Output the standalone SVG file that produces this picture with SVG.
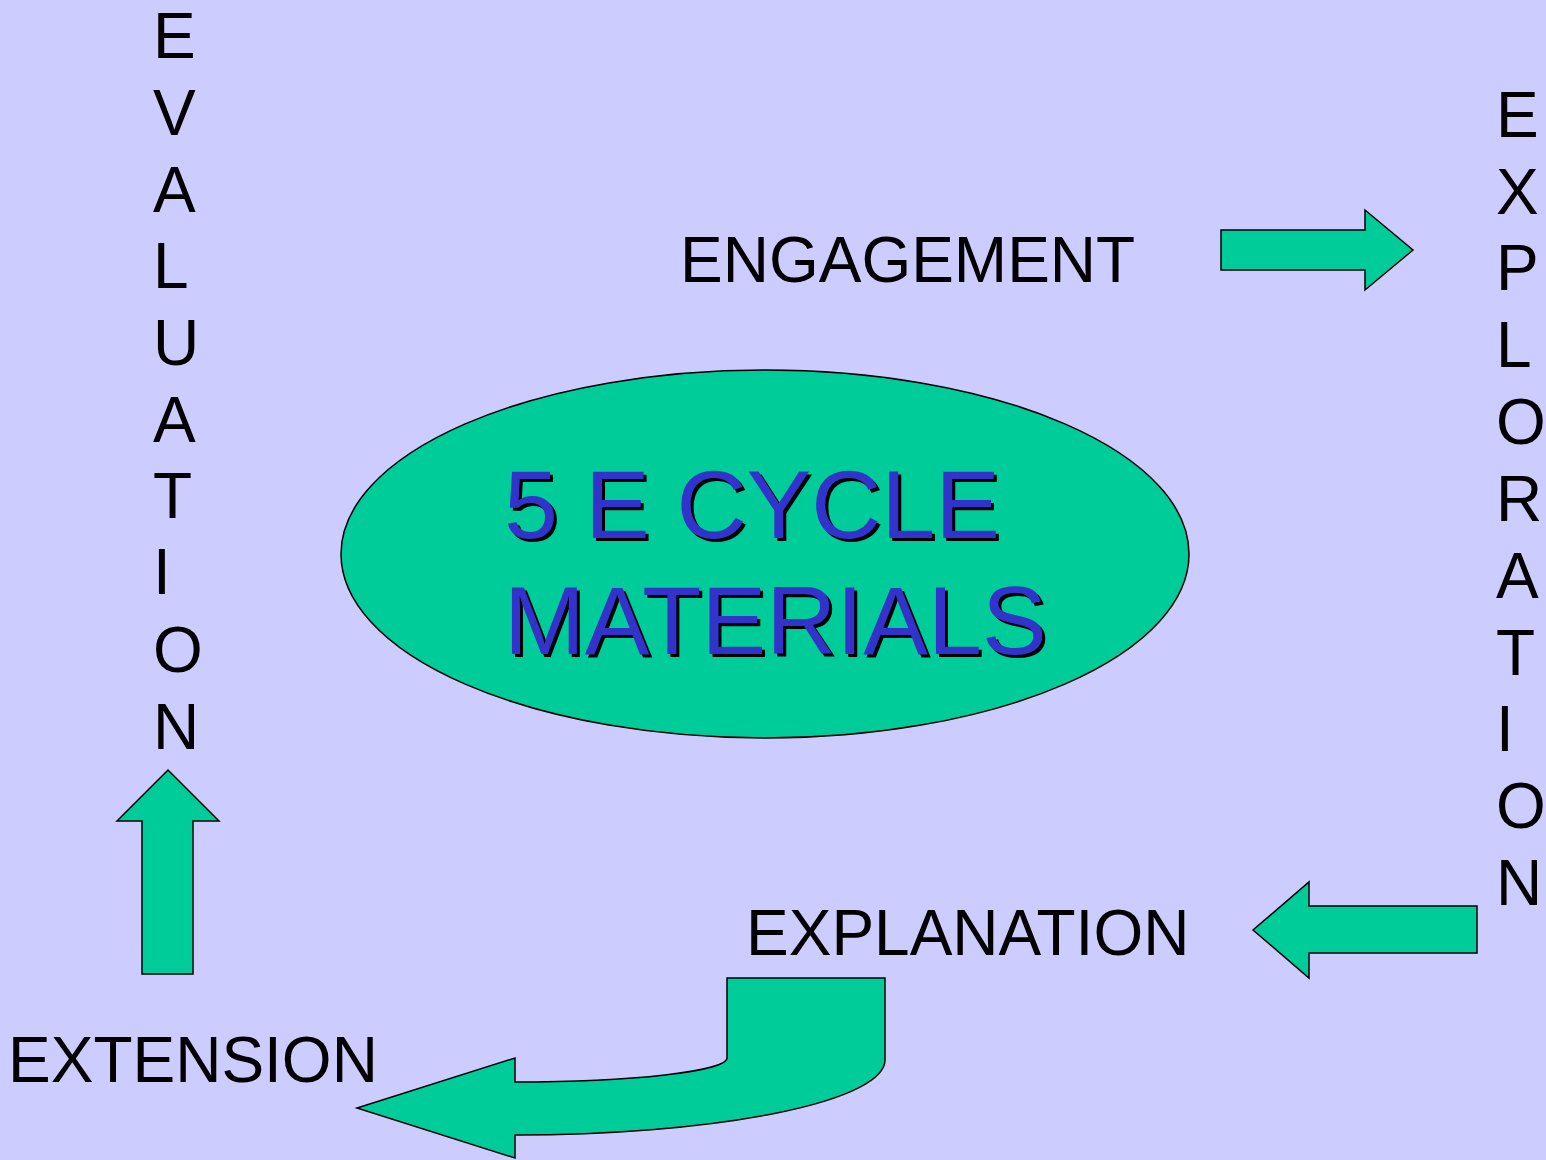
<svg xmlns="http://www.w3.org/2000/svg" width="1546" height="1160" viewBox="0 0 1546 1160">
<style>
.lbl{font-family:"Liberation Sans",Arial,sans-serif;font-size:64px;fill:#000}
.vert{font-family:"Liberation Sans",Arial,sans-serif;font-size:64px;fill:#000}
.title{font-family:"Liberation Sans",Arial,sans-serif;font-size:97px}
.arrow{fill:#00CC99;stroke:#000;stroke-width:1.5;stroke-linejoin:miter}
</style>
<rect width="1546" height="1160" fill="#CCCCFF"/>
<g id="center">
<ellipse cx="765" cy="554" rx="424" ry="184" fill="#00CC99" stroke="#000" stroke-width="1.5"/>
<g class="title" fill="#000" transform="translate(3,3)">
<text x="504" y="538">5 E CYCLE</text>
<text x="504" y="654">MATERIALS</text>
</g>
<g class="title" fill="#3333CC">
<text x="504" y="538">5 E CYCLE</text>
<text x="504" y="654">MATERIALS</text>
</g>
</g>
<g id="engagement"><text class="lbl" x="680" y="282">ENGAGEMENT</text></g>
<g id="explanation"><text class="lbl" x="746" y="955">EXPLANATION</text></g>
<g id="extension"><text class="lbl" x="8" y="1082">EXTENSION</text></g>
<g id="evaluation" class="vert">
<text x="153" y="58">E</text>
<text x="153" y="135">V</text>
<text x="153" y="212">A</text>
<text x="153" y="288">L</text>
<text x="153" y="365">U</text>
<text x="153" y="442">A</text>
<text x="153" y="518">T</text>
<text x="153" y="594">I</text>
<text x="153" y="672">O</text>
<text x="153" y="749">N</text>
</g>
<g id="exploration" class="vert">
<text x="1496" y="137">E</text>
<text x="1496" y="214">X</text>
<text x="1496" y="290">P</text>
<text x="1496" y="367">L</text>
<text x="1496" y="444">O</text>
<text x="1496" y="521">R</text>
<text x="1496" y="598">A</text>
<text x="1496" y="675">T</text>
<text x="1496" y="751">I</text>
<text x="1496" y="828">O</text>
<text x="1496" y="905">N</text>
</g>
<g id="connectors">
<path class="arrow" d="M1221 230 H1365 V210 L1413 250 L1365 290 V270 H1221 Z"/>
<path class="arrow" d="M1477 906 H1309 V882 L1253 930 L1309 978 V953 H1477 Z"/>
<path class="arrow" d="M142 974 V821 H117 L168 770 L219 821 H193 V974 Z"/>
<path class="arrow" d="M727 978 H885 V1060 A370 75 0 0 1 515 1135 V1158 L357 1108 L515 1058 V1082 A212 24 0 0 0 727 1058 Z"/>
</g>
</svg>
